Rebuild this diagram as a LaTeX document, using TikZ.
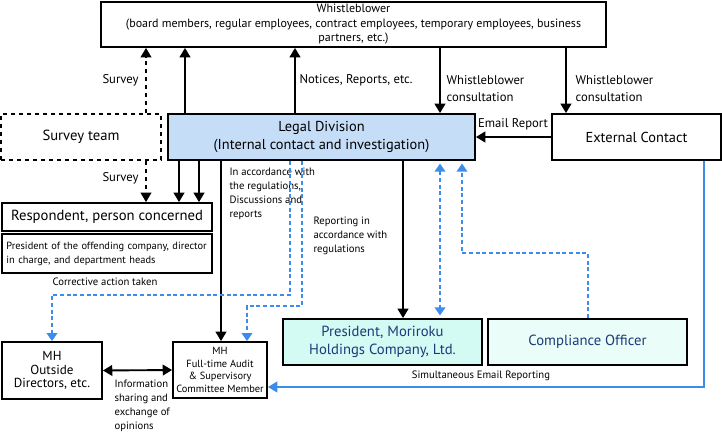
\documentclass[tikz,border=0pt]{standalone}
\usepackage{fontspec}
\setmainfont{PT Sans}
\usetikzlibrary{arrows.meta}
\definecolor{legalfill}{HTML}{C6DDF7}
\definecolor{presfill}{HTML}{D3FAF3}
\definecolor{compfill}{HTML}{EAFDF9}
\definecolor{navytext}{HTML}{1B3A78}
\definecolor{lineblue}{HTML}{3C8DEB}
\begin{document}
\begin{tikzpicture}[x=0.75pt,y=-0.75pt,
	box/.style={draw,line width=1.4pt,align=center,inner sep=0pt},
	arr/.style={line width=1.4pt,-{Triangle[length=7pt,width=8pt]}},
	dasharr/.style={arr,dashed,line width=1.1pt},
	bluedash/.style={draw=lineblue,line width=1pt,dash pattern=on 3pt off 2pt,-{Triangle[length=6pt,width=8pt]},color=lineblue},
	lbl/.style={font=\fontsize{9.5}{12.5}\selectfont,inner sep=1pt,align=left},
	small/.style={font=\fontsize{8}{10.5}\selectfont,inner sep=1pt,align=left}]
	\useasboundingbox (0,0) rectangle (722,436);
	
	% boxes
	\node[box,minimum width=378.75pt,minimum height=33.75pt,font=\fontsize{9}{10.9}\selectfont] (wb) at (353.5,24.5)
		{Whistleblower\\(board members, regular employees, contract employees, temporary employees, business\\partners, etc.)};
	\node[box,dashed,minimum width=120pt,minimum height=34.5pt,font=\fontsize{11}{13.5}\selectfont] (team) at (81,137) {Survey team};
	\node[box,fill=legalfill,minimum width=230.25pt,minimum height=34.5pt,font=\fontsize{10.8}{13.5}\selectfont] (legal) at (321.5,137)
		{Legal Division\\(Internal contact and investigation)};
	\node[box,minimum width=126.75pt,minimum height=34.5pt,font=\fontsize{10.8}{13.5}\selectfont] (ext) at (636.5,137) {External Contact};
	\node[box,minimum width=157.5pt,minimum height=21pt,font=\fontsize{11}{13.5}\selectfont] (resp) at (107,217) {Respondent, person concerned};
	\node[box,minimum height=29.25pt,text width=155pt,inner xsep=1.25pt,align=left,font=\fontsize{7.8}{10.5}\selectfont] (heads) at (107,253.5)
		{\hspace*{2pt}President of the offending company, director\\\hspace*{2pt}in charge, and department heads};
	\node[box,minimum width=75pt,minimum height=42.75pt,font=\fontsize{9.8}{10.3}\selectfont] (outdir) at (52,370.5) {MH\\Outside\\Directors, etc.};
	\node[box,minimum width=70.5pt,minimum height=42pt,font=\fontsize{7.8}{9.4}\selectfont] (audit) at (220,370)
		{MH\\Full-time Audit\\\& Supervisory\\Committee Member};
	\node[box,fill=presfill,text=navytext,minimum width=149.25pt,minimum height=34.5pt,font=\fontsize{11}{13.5}\selectfont] (pres) at (382.5,342)
		{President, Moriroku\\Holdings Company, Ltd.};
	\node[box,fill=compfill,text=navytext,minimum width=149.25pt,minimum height=34.5pt,font=\fontsize{11}{13.5}\selectfont] (comp) at (587.5,342) {Compliance Officer};
	
	% whistleblower links
	\draw[dasharr] (team.north -| 146,0) -- (wb.south -| 146,0);
	\draw[arr] (legal.north -| 185,0) -- (wb.south -| 185,0);
	\draw[arr] (legal.north -| 295,0) -- (wb.south -| 295,0);
	\draw[arr] (wb.south -| 440,0) -- (legal.north -| 440,0);
	\draw[arr] (wb.south -| 566,0) -- (ext.north -| 566,0);
	\draw[arr] (ext.west) -- (legal.east);
	
	\node[lbl,anchor=east] (survey1) at (140,80) {Survey};
	\node[lbl,anchor=west] (notices) at (298,80) {Notices, Reports, etc.};
	\node[lbl,anchor=west] (cons1) at (445,88.5) {Whistleblower\\consultation};
	\node[lbl,anchor=west] (cons2) at (574,88.5) {Whistleblower\\consultation};
	\node[lbl] (email) at (513,124) {Email Report};
	
	% respondent side
	\draw[dasharr] (team.south -| 146,0) -- (resp.north -| 146,0);
	\draw[arr] (legal.south -| 179,0) -- (resp.north -| 179,0);
	\draw[arr] (legal.south -| 199,0) -- (resp.north -| 199,0);
	\node[lbl,anchor=east] (survey2) at (140,178) {Survey};
	\node[small] (corrective) at (105,282) {Corrective action taken};
	
	% reporting lines
	\draw[arr] (legal.south -| 221,0) -- (audit.north -| 221,0);
	\draw[arr] (legal.south -| 403,0) -- (pres.north -| 403,0);
	\node[small,anchor=north west] (accord) at (228,166)
		{In accordance with\\the regulations,\\Discussions and\\reports};
	\node[small,anchor=north west] (reporting) at (312,215)
		{Reporting in\\accordance with\\regulations};
	
	\draw[bluedash] (legal.south -| 290,0) -- (290,295) -- (52,295) -- (outdir.north);
	\draw[bluedash] (legal.south -| 302,0) -- (302,306) -- (247,306) -- (audit.north -| 247,0);
	\draw[bluedash,{Triangle[length=6pt,width=8pt]}-{Triangle[length=6pt,width=8pt]},shorten <=2pt,shorten >=2pt]
		(legal.south -| 440,0) -- (pres.north -| 440,0);
	\draw[bluedash,shorten >=2pt] (comp.north -| 588,0) -- (588,253) -- (462,253) -- (legal.south -| 462,0);
	
	\draw[draw=lineblue,line width=1.4pt,-{Triangle[length=7pt,width=8pt]},color=lineblue]
		(ext.south -| 704,0) -- (704,387) -- (audit.east |- 0,387);
	\node[small] (simult) at (481,376) {Simultaneous Email Reporting};
	
	\draw[line width=1.4pt,{Triangle[length=7pt,width=8pt]}-{Triangle[length=7pt,width=8pt]}] (outdir.east) -- (audit.west);
	\node[small,anchor=north west] (info) at (113,378)
		{Information\\sharing and\\exchange of\\opinions};
\end{tikzpicture}
\end{document}
